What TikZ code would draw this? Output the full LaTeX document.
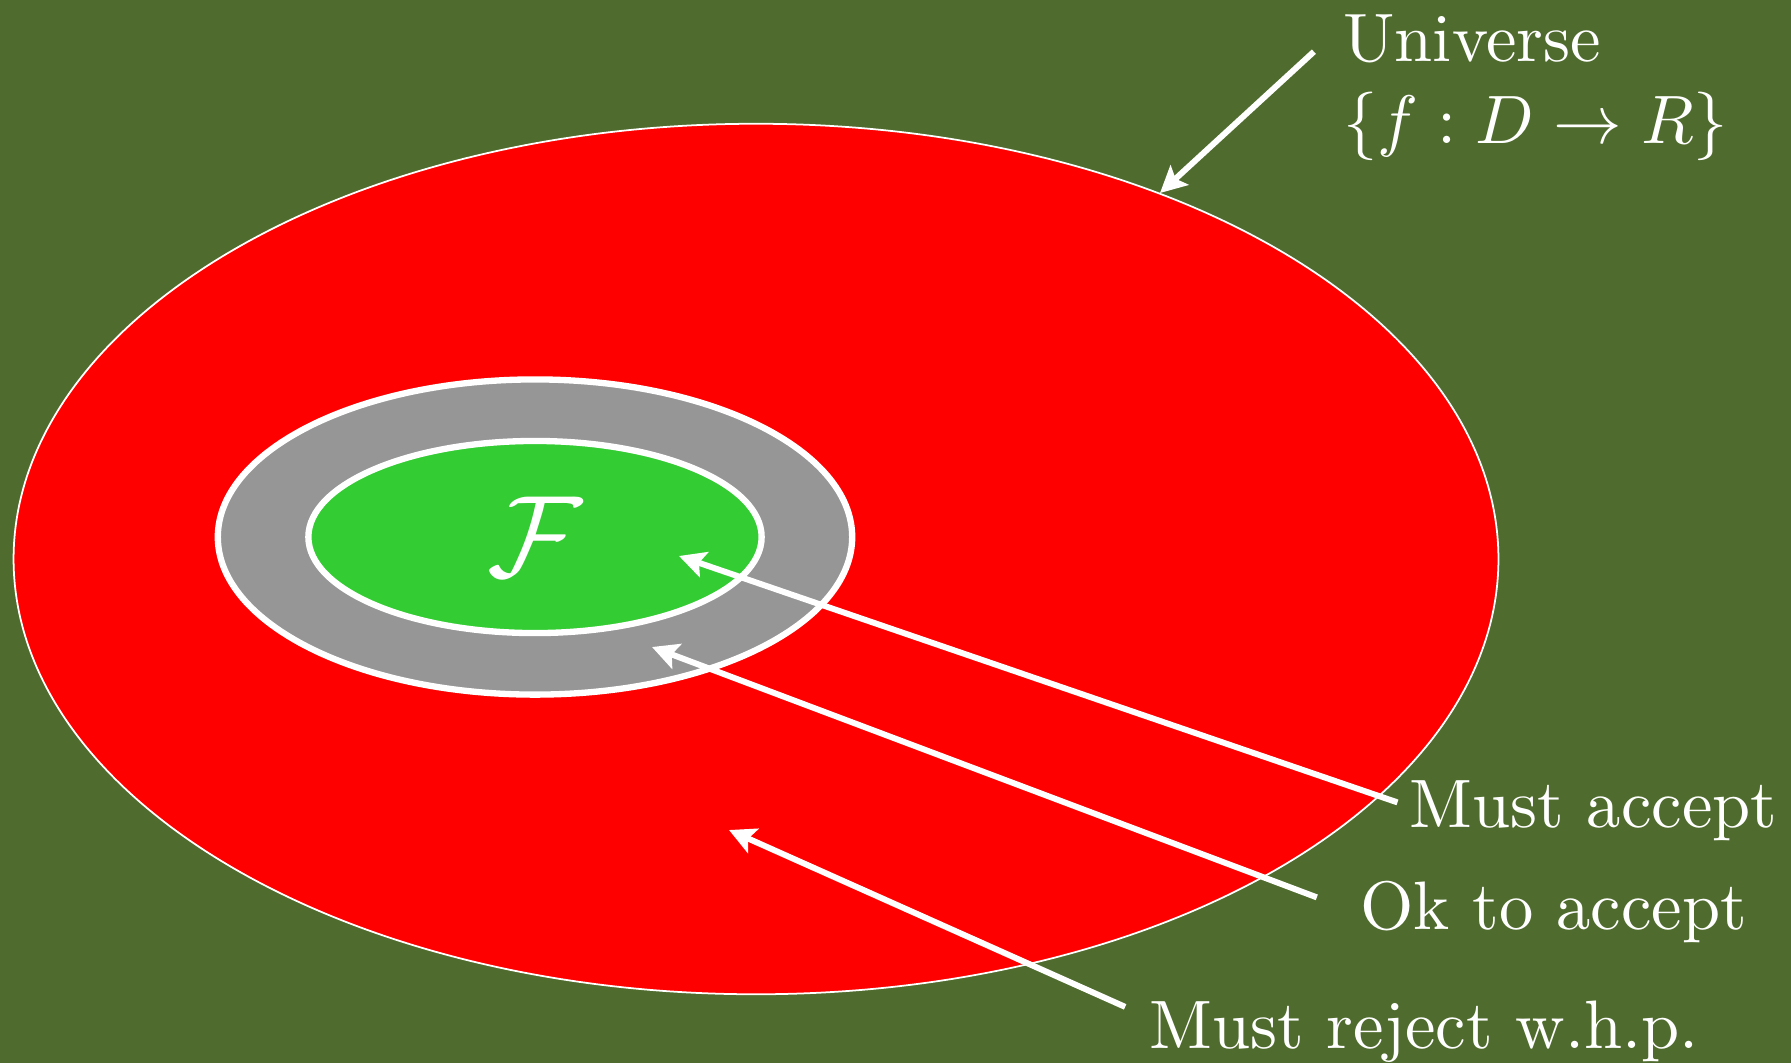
\documentclass[tikz,border=0pt]{standalone}
\usepackage{amsmath,amssymb}
\usetikzlibrary{arrows.meta,positioning,calc,shapes.geometric}
\definecolor{bgc}{RGB}{79,107,45}
\definecolor{univc}{RGB}{255,0,0}
\definecolor{closec}{RGB}{150,150,150}
\definecolor{famc}{RGB}{51,204,51}
\tikzset{
  lbl/.style={text=white, inner sep=0pt, font=\normalsize, align=left, scale=1.95, transform shape},
  arr/.style={-{Stealth[length=7.5pt,width=7.5pt,inset=1.5pt]}, draw=white, line width=1.7pt},
  region/.style={ellipse, draw=white, inner sep=0pt},
}

\begin{document}
\begin{tikzpicture}[x=0.01cm, y=-0.01cm]
  \fill[bgc] (0,0) rectangle (1791,1063);
  \node[region, fill=univc, line width=0.5pt, minimum width=14.84cm, minimum height=8.70cm] (univ) at (756,559) {};
  \node[region, fill=closec, line width=1.8pt, minimum width=6.34cm, minimum height=3.15cm] (close) at (535,537) {};
  \node[region, fill=famc, line width=1.8pt, minimum width=4.53cm, minimum height=1.92cm] (fam) at (535,537) {};
  \node[text=white, font=\normalsize, scale=3.3, transform shape] (F) at (fam.center) {$\mathcal{F}$};
  \node[lbl, anchor=north west] (ulbl) at (1342,13) {Universe\\$\{f : D \to R\}$};
  \node[lbl, anchor=base west] (macc) at (1408,827) {Must accept};
  \node[lbl, anchor=base west] (okacc) at (1359,929) {Ok to accept};
  \node[lbl, anchor=base west] (mrej) at (1148,1048) {Must reject w.h.p.};
  \coordinate (pu) at (1160,193);
  \coordinate (pm) at (679,556);
  \coordinate (po) at (652,647);
  \coordinate (pr) at (729,830);
  \draw[arr] ([shift={(-8pt,-11pt)}]ulbl.north west) -- (pu);
  \draw[arr] ([shift={(-3pt,7pt)}]macc.base west) -- (pm);
  \draw[arr] ([shift={(-12pt,9pt)}]okacc.base west) -- (po);
  \draw[arr] ([shift={(-6.5pt,11.7pt)}]mrej.base west) -- (pr);
\end{tikzpicture}
\end{document}
